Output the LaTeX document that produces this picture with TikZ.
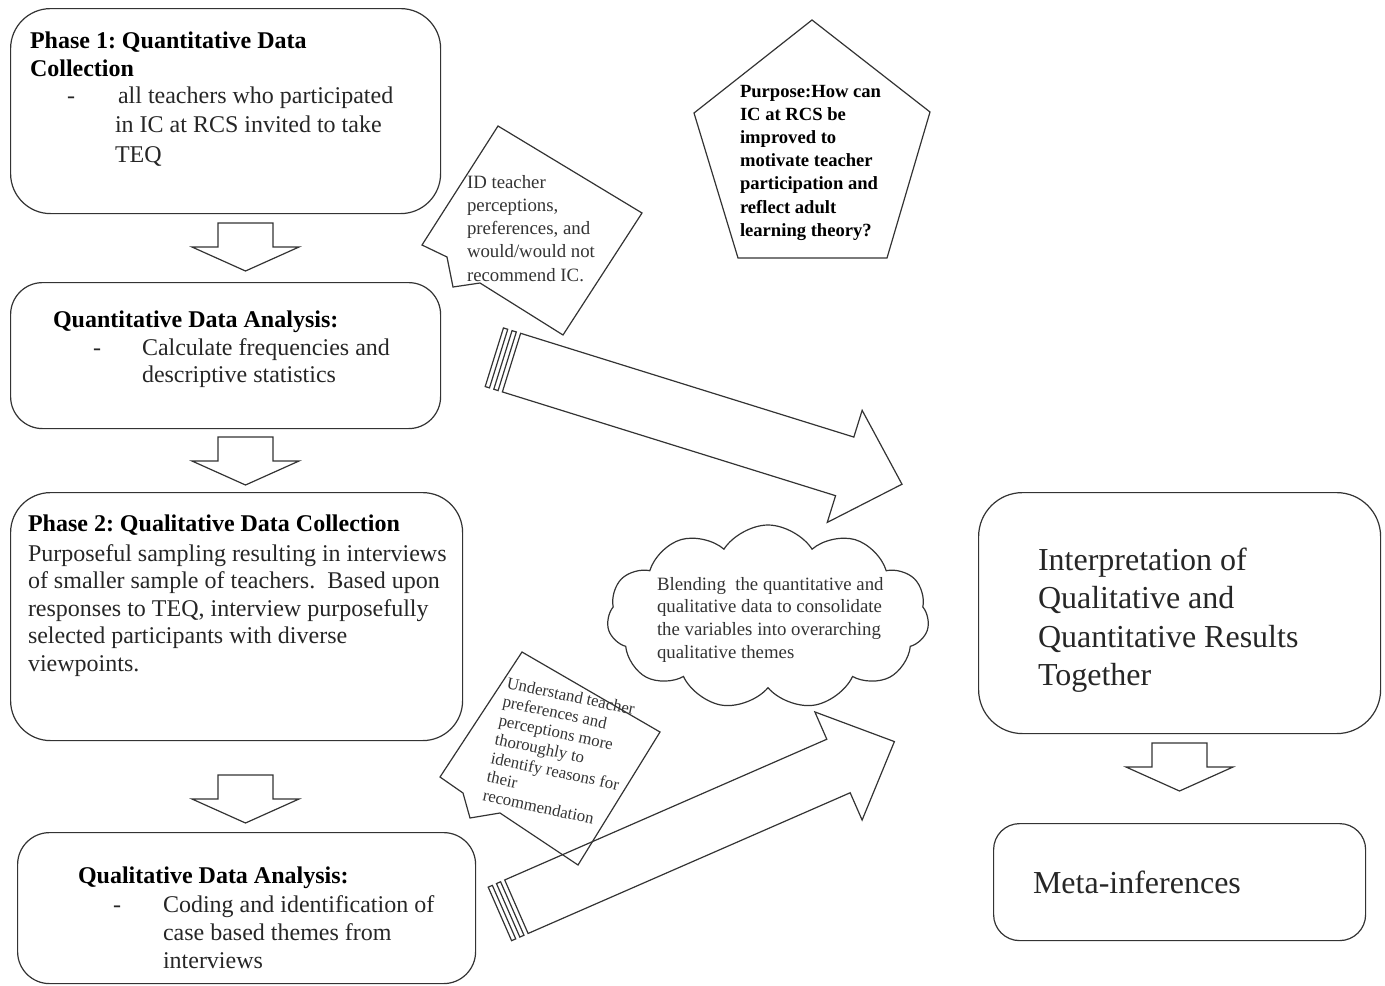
\documentclass[tikz,border=0pt]{standalone}
\usepackage{fontspec}
\setmainfont{Liberation Serif}
\usetikzlibrary{shapes.symbols}
\frenchspacing
\newcommand\tblk[3]{\parbox[t]{400pt}{\fontsize{#1}{#2}\selectfont\raggedright #3\par}}
\tikzset{
  ln/.style={draw=black!80, line width=0.6pt, line join=miter},
  rbox/.style={ln, rectangle, rounded corners=#1, anchor=north west, inner sep=0pt},
  txt/.style={anchor=base west, inner sep=0pt, outer sep=0pt, text=black!85},
  hd/.style={txt, text=black, font=\bfseries},
  downblk/.pic={\draw[ln] (-27.5,0) -- (27.5,0) -- (27.5,24) -- (53.5,24) -- (0,48) -- (-53.5,24) -- (-27.5,24) -- cycle;},
}
\begin{document}
\begin{tikzpicture}[x=0.5pt,y=-0.5pt]
\useasboundingbox (0,0) rectangle (1385,985);

% left column boxes
\node[rbox=20pt, minimum width=215pt, minimum height=102.5pt] (b1) at (10,8) {};
\node[rbox=16pt, minimum width=215pt, minimum height=73pt] (b2) at (10,282) {};
\node[rbox=20pt, minimum width=226pt, minimum height=124pt] (b3) at (10,492) {};
\node[rbox=16pt, minimum width=229pt, minimum height=75.5pt] (b4) at (17,832) {};
% right column boxes
\node[rbox=22pt, minimum width=201pt, minimum height=120.5pt] (b5) at (978,492) {};
\node[rbox=13pt, minimum width=186pt, minimum height=58.5pt] (b6) at (993,823) {};

% small block arrows
\pic at (245.5,223) {downblk};
\pic at (245.5,437) {downblk};
\pic at (245.5,775) {downblk};
\pic at (1179.5,743) {downblk};

% texts of box 1
\node[hd] (t1h) at (30,48) {\tblk{12pt}{14pt}{Phase 1: Quantitative Data\\Collection}};
\node[txt] (t1d) at (67,103) {\fontsize{12pt}{14pt}\selectfont -};
\node[txt] (t1b) at (115,103) {\tblk{12pt}{14.75pt}{\hspace*{1.5pt}all teachers who participated\\in IC at RCS invited to take\\TEQ}};
% box 2
\node[hd] (t2h) at (53,327) {\tblk{12pt}{14pt}{Quantitative Data Analysis:}};
\node[txt] (t2d) at (93,355) {\fontsize{12pt}{14pt}\selectfont -};
\node[txt] (t2b) at (142,355) {\tblk{12pt}{13.75pt}{Calculate frequencies and\\descriptive statistics}};
% box 3
\node[hd] (t3h) at (28,531) {\tblk{12pt}{14pt}{Phase 2: Qualitative Data Collection}};
\node[txt] (t3b) at (28,561) {\tblk{12pt}{13.8pt}{Purposeful sampling resulting in interviews\\of smaller sample of teachers.\ \ Based upon\\responses to TEQ, interview purposefully\\selected participants with diverse\\viewpoints.}};
% box 4
\node[hd] (t4h) at (78,883) {\tblk{12pt}{14pt}{Qualitative Data Analysis:}};
\node[txt] (t4d) at (113,912) {\fontsize{12pt}{14pt}\selectfont -};
\node[txt] (t4b) at (163,912) {\tblk{12pt}{14pt}{Coding and identification of\\case based themes from\\interviews}};
% right texts
\node[txt] (t5) at (1038,570) {\tblk{16pt}{19.25pt}{Interpretation of\\Qualitative and\\Quantitative Results\\Together}};
\node[txt] (t6) at (1033,893) {\tblk{16pt}{19.25pt}{Meta-inferences}};

% pentagon
\coordinate (p1) at (812,20);
\coordinate (p2) at (930,112);
\coordinate (p3) at (887,258);
\coordinate (p4) at (738,258);
\coordinate (p5) at (694,113);
\draw[ln] (p1) -- (p2) -- (p3) -- (p4) -- (p5) -- cycle;
\node[hd] (tp) at (740,97) {\tblk{9.3pt}{11.6pt}{Purpose:How can\\IC at RCS be\\improved to\\motivate teacher\\participation and\\reflect adult\\learning theory?}};

% callout 1
\coordinate (c1t) at (498,126);
\coordinate (c1r) at (642,213);
\coordinate (c1b) at (563,335);
\coordinate (c1p) at (422,245);
\draw[ln] (c1t) -- (c1r) -- (c1b) -- (480,283) -- (453,287) -- (447,257) -- (c1p) -- cycle;
\node[txt, text=black!80] (tc1) at (467,188) {\tblk{9.4pt}{11.65pt}{ID teacher\\perceptions,\\preferences, and\\would/would not\\recommend IC.}};

% callout 2
\coordinate (c2t) at (522,652);
\coordinate (c2r) at (660,732);
\coordinate (c2b) at (578,865);
\coordinate (c2p) at (440,777);
\draw[ln] (c2t) -- (c2r) -- (c2b) -- (500,813) -- (470,818) -- (463,793) -- (c2p) -- cycle;
\node[txt, text=black!80, rotate=-12] (tc2) at (506,688) {\tblk{8.4pt}{9.6pt}{Understand teacher\\preferences and\\perceptions more\\thoroughly to\\identify reasons for\\their\\recommendation}};

% cloud
\node[cloud, ln, cloud puffs=11, cloud puff arc=115, aspect=1.75, minimum width=161pt, minimum height=92pt, inner sep=0pt] (cl) at (768,617) {};
\node[txt, text=black!80] (tcl) at (657,590) {\tblk{9.4pt}{11.35pt}{Blending\ \ the quantitative and\\qualitative data to consolidate\\the variables into overarching\\qualitative themes}};

% striped arrow (upper)
\begin{scope}[shift={(511.5,362.6)}, rotate=-17.3]
  \draw[ln] (0,-30.7) -- (349,-30.7) -- (349,-58.7) -- (409,0) -- (349,58.7) -- (349,30.7) -- (0,30.7) -- cycle;
  \draw[ln] (-18,-30.7) rectangle (-13.5,30.7);
  \draw[ln] (-9,-30.7) rectangle (-4.5,30.7);
\end{scope}
% striped arrow (lower)
\begin{scope}[shift={(516.4,906.7)}, rotate=23.6]
  \draw[ln] (0,-29.2) -- (351.5,-29.2) -- (351.5,-59) -- (412.5,0) -- (351.5,59) -- (351.5,29.2) -- (0,29.2) -- cycle;
  \draw[ln] (-18,-29.2) rectangle (-13.5,29.2);
  \draw[ln] (-9,-29.2) rectangle (-4.5,29.2);
\end{scope}
\end{tikzpicture}
\end{document}
